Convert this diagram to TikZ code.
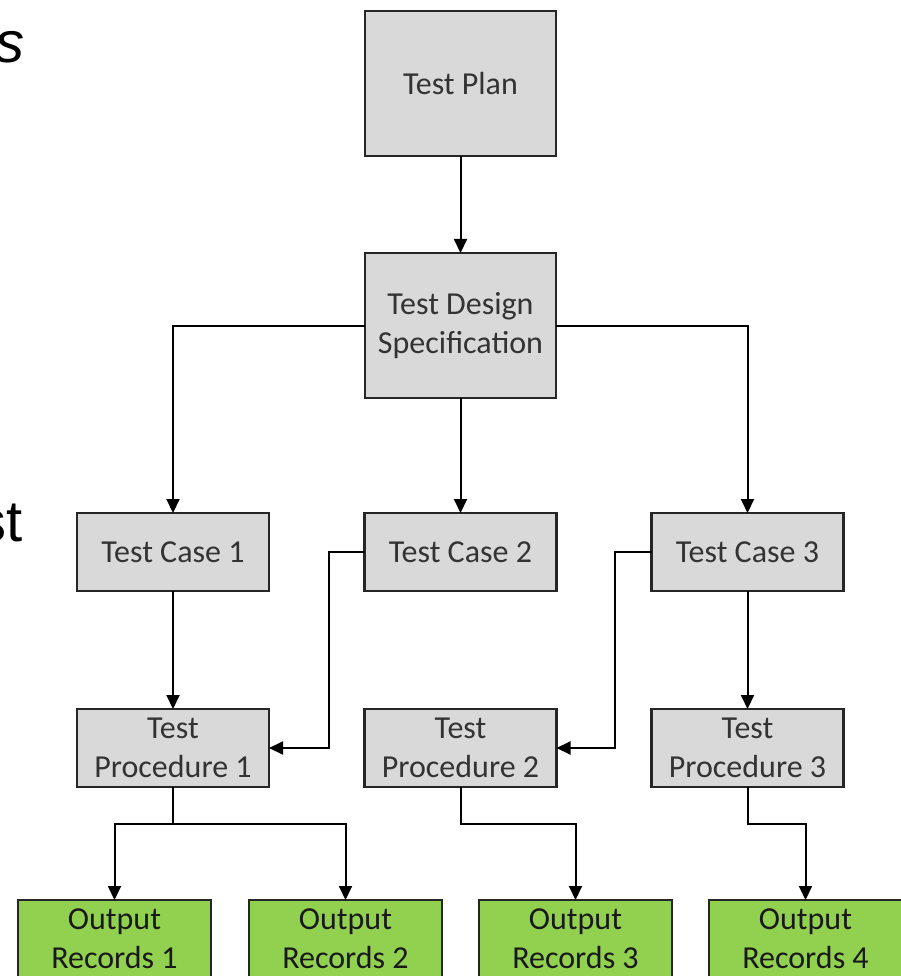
\documentclass[tikz,border=0pt]{standalone}
\usepackage{fontspec}
\setmainfont{Carlito}
\newfontfamily\fragfont{Liberation Sans}
\newfontfamily\fragitfont{Liberation Sans}[UprightFont={* Italic}]
\usetikzlibrary{arrows.meta}
\definecolor{boxgray}{HTML}{D9D9D9}
\definecolor{boxgreen}{HTML}{92D050}
\definecolor{boxline}{HTML}{262626}
\begin{document}
\begin{tikzpicture}[x=1pt,y=-1pt,
  every node/.style={inner sep=0pt,outer sep=0pt},
  graybox/.style={draw=boxline,line width=2.2pt,fill=boxgray,align=center,
    text=black!80,font=\fontsize{32}{39}\selectfont},
  tallbox/.style={graybox,minimum width=191pt,minimum height=145pt},
  midbox/.style={graybox,minimum width=192pt,minimum height=78pt},
  greenbox/.style={draw=boxline,line width=2.2pt,fill=boxgreen,align=center,
    text=black!90,font=\fontsize{32}{39}\selectfont,
    minimum width=193pt,minimum height=78pt},
  arr/.style={draw=black,line width=2pt,-{Triangle[length=14pt,width=13pt]}},
  frag/.style={font=\fontsize{58}{62}\selectfont,anchor=base east}]
\useasboundingbox (0,0) rectangle (901,976);
\clip (0,0) rectangle (901,976);
\fill[white] (0,0) rectangle (901,976);

\node[frag] (fraga) at (24,63) {\fragitfont s};
\node[frag] (fragb) at (23,541) {\fragfont st};

\node[tallbox] (plan) at (460.5,83.5) {Test Plan};
\node[tallbox] (spec) at (460.5,325.5) {Test Design\\Specification};

\node[midbox] (c1) at (173,552) {Test Case 1};
\node[midbox] (c2) at (460.5,552) {Test Case 2};
\node[midbox] (c3) at (747.5,552) {Test Case 3};

\node[midbox] (p1) at (173,748) {Test\\Procedure 1};
\node[midbox] (p2) at (460.5,748) {Test\\Procedure 2};
\node[midbox] (p3) at (747.5,748) {Test\\Procedure 3};

\node[greenbox,anchor=north] (o1) at (114.5,900) {Output\\Records 1};
\node[greenbox,anchor=north] (o2) at (345.5,900) {Output\\Records 2};
\node[greenbox,anchor=north] (o3) at (575.5,900) {Output\\Records 3};
\node[greenbox,anchor=north] (o4) at (805.5,900) {Output\\Records 4};

\draw[arr] (plan.south) -- (spec.north);
\draw[arr] (spec.west) -| (c1.north);
\draw[arr] (spec.east) -| (c3.north);
\draw[arr] (spec.south) -- (c2.north);
\draw[arr] (c1.south) -- (p1.north);
\draw[arr] (c3.south) -- (p3.north);

\coordinate (k2) at (329,552);
\coordinate (k3) at (615,552);
\draw[arr] (c2.west) -- (k2) |- (p1.east);
\draw[arr] (c3.west) -- (k3) |- (p2.east);

\coordinate (j1) at (173,824);
\coordinate (j2) at (460.5,824);
\coordinate (j3) at (747.5,824);
\draw[arr] (p1.south) -- (j1) -| (o1.north);
\draw[arr] (j1) -| (o2.north);
\draw[arr] (p2.south) -- (j2) -| (o3.north);
\draw[arr] (p3.south) -- (j3) -| (o4.north);
\end{tikzpicture}
\end{document}
